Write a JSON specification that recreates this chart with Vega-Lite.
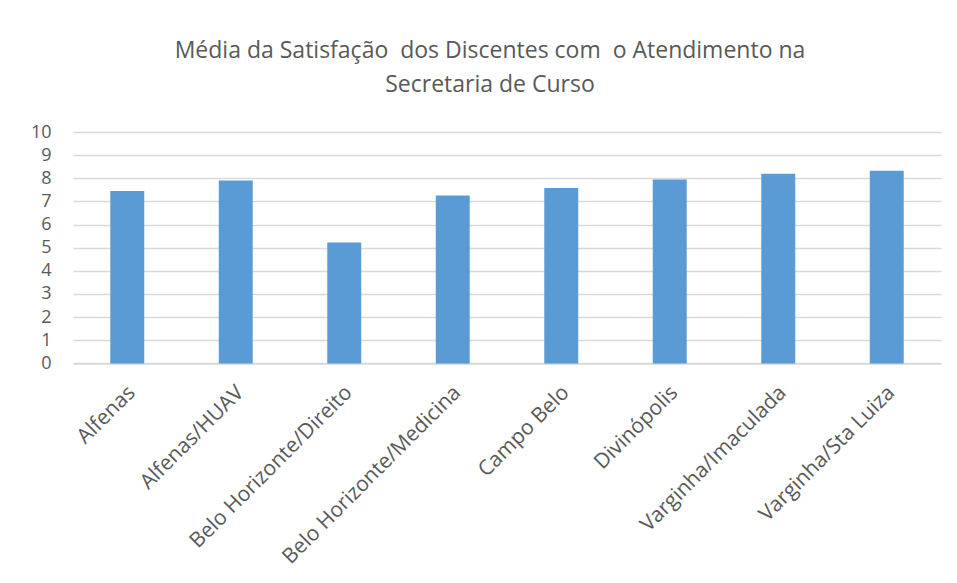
{
  "$schema": "https://vega.github.io/schema/vega-lite/v6.json",
  "autosize": "none",
  "width": 868,
  "height": 231.4,
  "padding": {"left": 73, "top": 132, "right": 16, "bottom": 219.6},
  "background": "white",
  "title": {
    "text": ["Média da Satisfação \u00a0dos Discentes com \u00a0o Atendimento na", "Secretaria de Curso"],
    "font": "Open Sans",
    "fontSize": 23,
    "fontWeight": "normal",
    "color": "#595959",
    "lineHeight": 34,
    "anchor": "middle",
    "dx": -17,
    "offset": 26
  },
  "data": {
    "values": [
      {"campus": "Alfenas", "media": 7.45},
      {"campus": "Alfenas/HUAV", "media": 7.9},
      {"campus": "Belo Horizonte/Direito", "media": 5.23},
      {"campus": "Belo Horizonte/Medicina", "media": 7.26},
      {"campus": "Campo Belo", "media": 7.58},
      {"campus": "Divinópolis", "media": 7.95},
      {"campus": "Varginha/Imaculada", "media": 8.2},
      {"campus": "Varginha/Sta Luiza", "media": 8.33}
    ]
  },
  "mark": {"type": "bar", "color": "#5b9bd5"},
  "encoding": {
    "x": {
      "field": "campus",
      "type": "nominal",
      "sort": null,
      "scale": {"paddingInner": 0.687, "paddingOuter": 0.3435},
      "axis": {
        "title": null,
        "labelAngle": -45,
        "labelFont": "Open Sans",
        "labelFontSize": 21,
        "labelColor": "#595959",
        "ticks": false,
        "domainColor": "#d9d9d9",
        "domainWidth": 1.5,
        "labelPadding": 18,
        "labelOffset": -3,
        "labelLimit": 400,
        "labelOverlap": false
      }
    },
    "y": {
      "field": "media",
      "type": "quantitative",
      "scale": {"domain": [0, 10]},
      "axis": {
        "title": null,
        "values": [0, 1, 2, 3, 4, 5, 6, 7, 8, 9, 10],
        "labelOverlap": false,
        "domain": false,
        "ticks": false,
        "labelFont": "Open Sans",
        "labelFontSize": 18,
        "labelColor": "#595959",
        "labelPadding": 22,
        "gridColor": "#d9d9d9",
        "gridWidth": 1.5
      }
    }
  },
  "config": {"view": {"stroke": null}}
}
